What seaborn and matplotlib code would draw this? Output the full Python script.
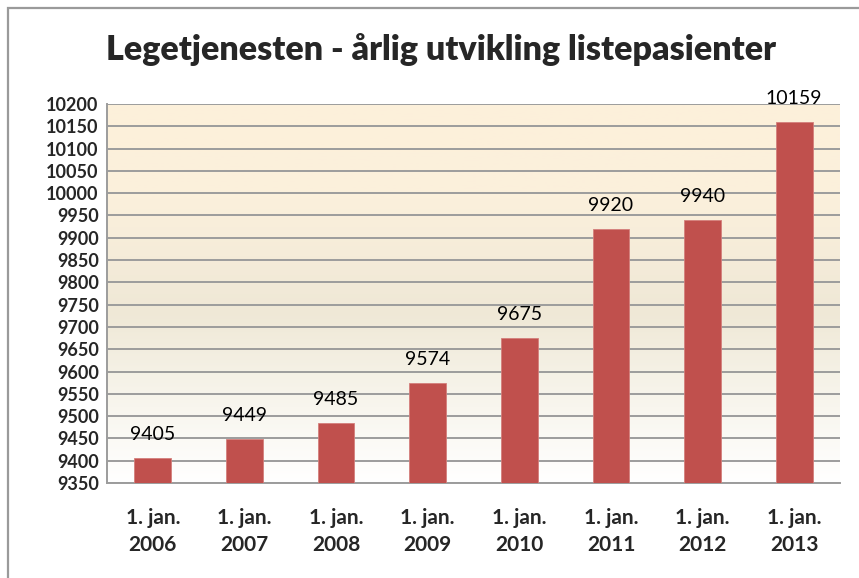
import numpy as np
import pandas as pd
import matplotlib
matplotlib.use("Agg")
import matplotlib.pyplot as plt
from matplotlib.colors import LinearSegmentedColormap
from matplotlib.patches import Rectangle
import seaborn as sns

categories = ["1. jan.\n2006", "1. jan.\n2007", "1. jan.\n2008", "1. jan.\n2009",
              "1. jan.\n2010", "1. jan.\n2011", "1. jan.\n2012", "1. jan.\n2013"]
values = [9405, 9449, 9485, 9574, 9675, 9920, 9940, 10159]
y_ticks = list(range(9350, 10201, 50))
title = "Legetjenesten - årlig utvikling listepasienter"

sns.set_theme(style="white")
plt.rcParams["font.family"] = ["Lato", "DejaVu Sans"]

df = pd.DataFrame({"cat": categories, "val": values})

fig = plt.figure(figsize=(8.59, 5.78), dpi=100)
ax = fig.add_axes([107/859, 1-483/578, (840-107)/859, (483-104)/578])

# outer border (top and left visible)
fig.patches.append(Rectangle((8/859, -0.05), 1.2, 1 - 8/578 + 0.05, transform=fig.transFigure,
                             fill=False, edgecolor="#9a9a9a", linewidth=1.6, zorder=0))

# gradient background
grad_cmap = LinearSegmentedColormap.from_list(
    "bg", [(0.0, "#ffffff"), (0.2, "#f8f6ee"), (0.45, "#efe8d6"), (0.75, "#fbf0dc"), (1.0, "#fdf0da")])
grad = np.linspace(0, 1, 256).reshape(-1, 1)
ax.imshow(grad, aspect="auto", cmap=grad_cmap, origin="lower",
          extent=(-0.5, len(categories) - 0.5, 9350, 10200), zorder=0)

sns.barplot(data=df, x="cat", y="val", color="#C0504D", width=0.4, saturation=1,
            ax=ax, zorder=3, edgecolor="#d47f7c", linewidth=0.6)

ax.set_xlim(-0.5, len(categories) - 0.5)
ax.set_ylim(9350, 10200)
ax.set_yticks(y_ticks)
ax.set_yticklabels([str(t) for t in y_ticks], fontsize=13, fontweight="bold")
ax.set_xticklabels(categories, fontsize=15, fontweight="bold", linespacing=1.45)
ax.tick_params(axis="x", pad=18, length=0)
ax.tick_params(axis="y", pad=6, length=0)
ax.set_xlabel("")
ax.set_ylabel("")
ax.grid(axis="y", color="#9c9c9c", linewidth=1.4, zorder=1)
ax.set_axisbelow(False)
for s in ["top", "right"]:
    ax.spines[s].set_visible(False)
for s in ["left", "bottom"]:
    ax.spines[s].set_color("#9c9c9c")
    ax.spines[s].set_linewidth(1.4)

for i, v in enumerate(values):
    ax.annotate(str(v), (i, v), xytext=(0, 11), textcoords="offset points",
                ha="center", va="bottom", fontsize=14, color="black", zorder=5,
                annotation_clip=False)

fig.text(0.5 * (110 + 772) / 859, 1 - 50/578, title, ha="center", va="center",
         fontsize=24.5, fontweight="heavy")

fig.savefig("out.png", dpi=100)
